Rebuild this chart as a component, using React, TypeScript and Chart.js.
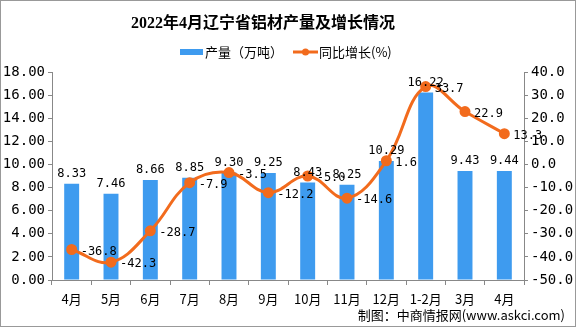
import React, { useEffect, useRef } from "react";
import { Chart, registerables } from "chart.js";

Chart.register(...registerables);

const categories = ["4月", "5月", "6月", "7月", "8月", "9月", "10月", "11月", "12月", "1-2月", "3月", "4月"];
const output = [8.33, 7.46, 8.66, 8.85, 9.3, 9.25, 8.43, 8.25, 10.29, 16.22, 9.43, 9.44];
const growth = [-36.8, -42.3, -28.7, -7.9, -3.5, -12.2, -5.0, -14.6, 1.6, 33.7, 22.9, 13.3];

const titleText = "2022年4月辽宁省铝材产量及增长情况";
const barName = "产量（万吨）";
const lineName = "同比增长(%)";
const footer = "制图：中商情报网(www.askci.com)";

const BAR = "#3E9BEF";
const LINE = "#F26B1D";
const MONO = "'DejaVu Sans Mono', 'Liberation Mono', monospace";
const CJK = "'Noto Sans CJK SC', sans-serif";

const decorPlugin = {
  id: "decor",
  afterDatasetsDraw(chart: any) {
    const ctx = chart.ctx;
    ctx.save();
    // bar labels
    const barMeta = chart.getDatasetMeta(0);
    ctx.font = `12px ${MONO}`;
    ctx.fillStyle = "#000";
    ctx.textAlign = "center";
    ctx.textBaseline = "bottom";
    barMeta.data.forEach((el: any, i: number) => {
      ctx.fillText(output[i].toFixed(2), el.x, el.y - 4);
    });
    // line labels
    const lineMeta = chart.getDatasetMeta(1);
    ctx.textAlign = "left";
    ctx.textBaseline = "middle";
    lineMeta.data.forEach((el: any, i: number) => {
      ctx.fillText(growth[i].toFixed(1), el.x + 9, el.y + 2);
    });
    ctx.restore();
  },
  afterDraw(chart: any) {
    const ctx = chart.ctx;
    ctx.save();
    ctx.fillStyle = "#000";
    ctx.font = `bold 16px 'Liberation Serif', 'Noto Sans CJK SC', serif`;
    ctx.textAlign = "center";
    ctx.textBaseline = "middle";
    ctx.fillText(titleText, 262, 23);
    // legend
    ctx.fillStyle = BAR;
    ctx.fillRect(179, 48, 23, 6);
    ctx.fillStyle = "#000";
    ctx.font = `13px ${CJK}`;
    ctx.textAlign = "left";
    ctx.fillText(barName, 204, 51);
    ctx.strokeStyle = LINE;
    ctx.lineWidth = 3;
    ctx.beginPath();
    ctx.moveTo(292, 51);
    ctx.lineTo(317, 51);
    ctx.stroke();
    ctx.fillStyle = LINE;
    ctx.beginPath();
    ctx.arc(304.5, 51, 3.5, 0, Math.PI * 2);
    ctx.fill();
    ctx.fillStyle = "#000";
    ctx.fillText(lineName, 318, 51);
    // footer
    ctx.textAlign = "right";
    ctx.font = `13px ${CJK}`;
    ctx.fillText(footer, 564, 314);
    ctx.restore();
  },
};

export default function App() {
  const ref = useRef<HTMLCanvasElement>(null);
  useEffect(() => {
    if (!ref.current) return;
    const chart = new Chart(ref.current, {
      type: "bar",
      data: {
        labels: categories,
        datasets: [
          {
            type: "bar",
            label: barName,
            data: output,
            backgroundColor: BAR,
            yAxisID: "y",
            barPercentage: 0.38,
            categoryPercentage: 1,
            order: 2,
          },
          {
            type: "line",
            label: lineName,
            data: growth,
            borderColor: LINE,
            backgroundColor: LINE,
            borderWidth: 3,
            pointRadius: 4,
            pointBackgroundColor: LINE,
            pointBorderColor: LINE,
            tension: 0.4,
            yAxisID: "y1",
            order: 1,
          } as any,
        ],
      },
      options: {
        animation: false,
        responsive: false,
        layout: { padding: { top: 71, left: 0, right: 0, bottom: 0 } },
        plugins: { legend: { display: false }, title: { display: false }, tooltip: { enabled: false } },
        scales: {
          x: {
            grid: { display: true, drawOnChartArea: false, offset: true, tickLength: 5, color: "#888" },
            border: { color: "#888" },
            ticks: { color: "#000", font: { family: CJK, size: 13 }, padding: 6 },
            afterFit: (s: any) => { s.height = 46; },
          },
          y: {
            position: "left",
            min: 0,
            max: 18,
            ticks: { stepSize: 2, color: "#000", font: { family: MONO, size: 14 }, callback: (v: any) => Number(v).toFixed(2), padding: 3 },
            grid: { display: true, drawOnChartArea: false, tickLength: 4, color: "#888" },
            border: { color: "#888" },
            afterFit: (s: any) => { s.width = 51; },
          },
          y1: {
            position: "right",
            min: -50,
            max: 40,
            ticks: { stepSize: 10, color: "#000", font: { family: MONO, size: 14 }, callback: (v: any) => Number(v).toFixed(1), padding: 3 },
            grid: { display: true, drawOnChartArea: false, tickLength: 4, color: "#888" },
            border: { color: "#888" },
            afterFit: (s: any) => { s.width = 51; },
          },
        },
      },
      plugins: [decorPlugin],
    });
    return () => chart.destroy();
  }, []);
  return (
    <div style={{ position: "absolute", left: 0, top: 0, width: 576, height: 327, boxSizing: "border-box", border: "1px solid #999", background: "#fff" }}>
      <canvas ref={ref} width={574} height={325} style={{ display: "block" }} />
    </div>
  );
}
